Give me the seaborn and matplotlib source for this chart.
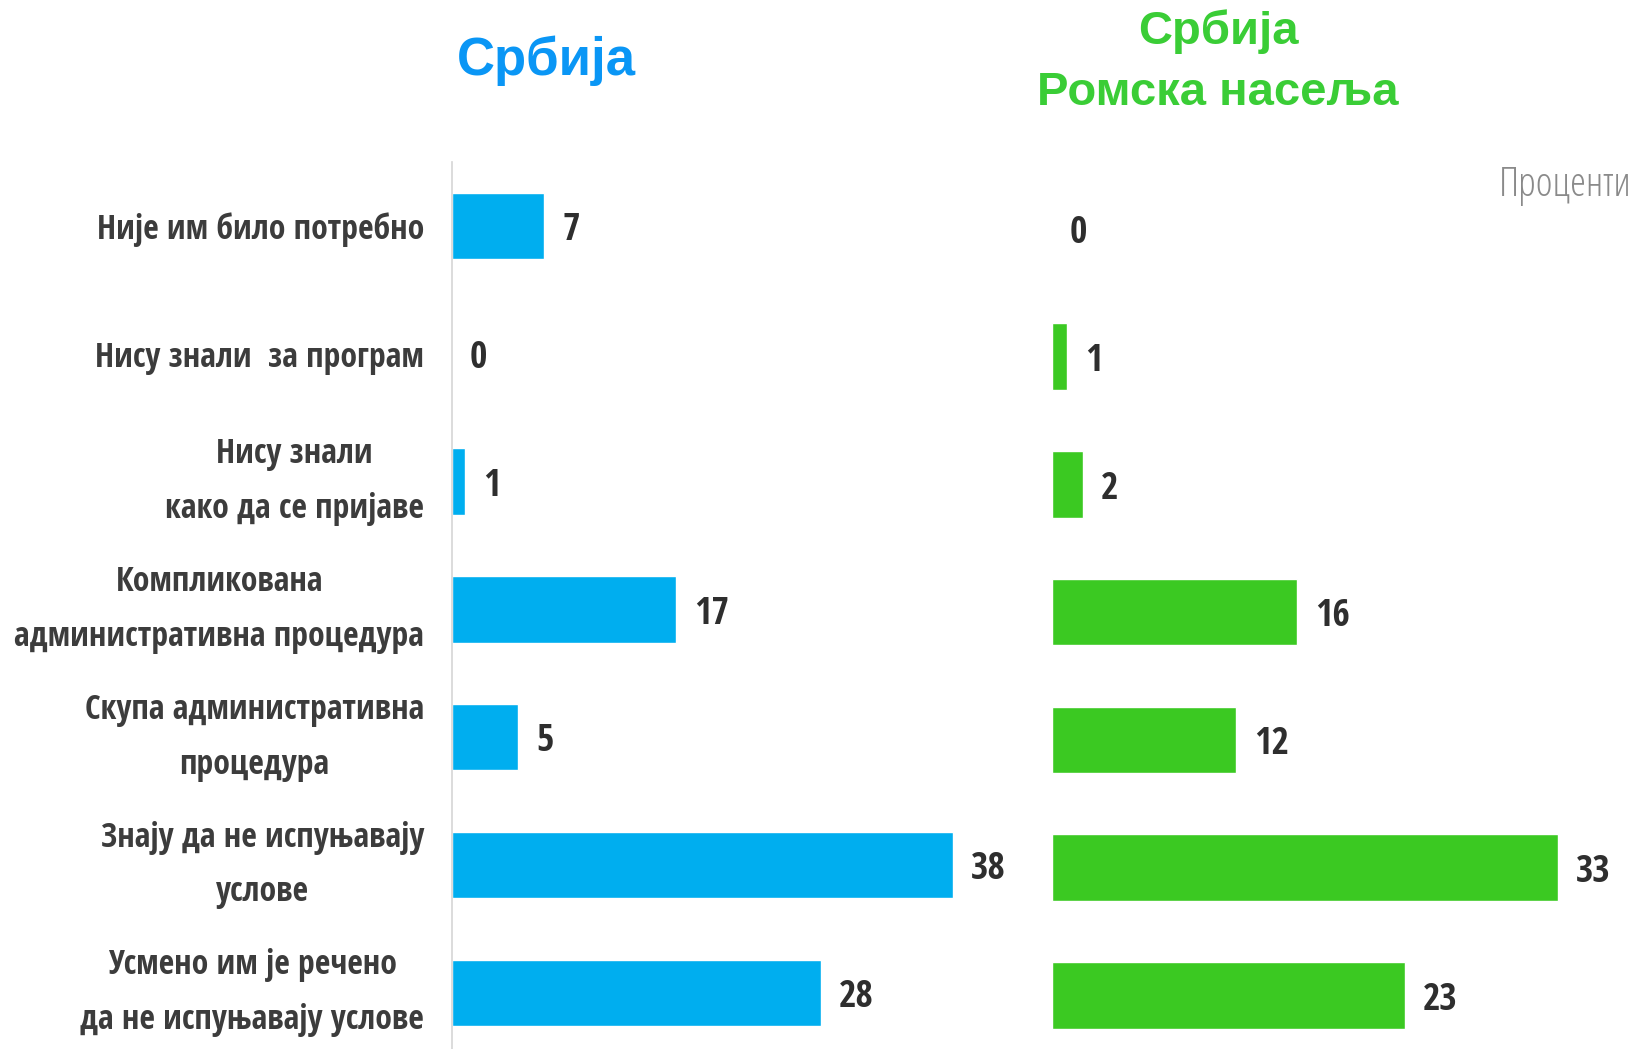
import matplotlib
matplotlib.use("Agg")
import matplotlib.pyplot as plt
from matplotlib import font_manager as fm
import seaborn as sns
import pandas as pd

categories = [
    "Није им било потребно",
    "Нису знали  за програм",
    "Нису знали\nкако да се пријаве",
    "Компликована\nадминистративна процедура",
    "Скупа административна\nпроцедура",
    "Знају да не испуњавају\nуслове",
    "Усмено им је речено\nда не испуњавају услове",
]
serbia_values = [7, 0, 1, 17, 5, 38, 28]
roma_values = [0, 1, 2, 16, 12, 33, 23]

title_left = "Србија"
title_right_1 = "Србија"
title_right_2 = "Ромска насеља"
unit_label = "Проценти"

BLUE = "#00AEEF"
GREEN = "#3BC922"
BLUE_T = "#0A96F5"
GREEN_T = "#3ACD36"
TXT = "#3c3c3c"


def font_path(filename):
    for f in fm.fontManager.ttflist:
        if f.fname.endswith(filename):
            return f.fname
    return None


def fprops(filename, size, fallback_weight="bold"):
    p = font_path(filename)
    if p:
        return fm.FontProperties(fname=p, size=size)
    return fm.FontProperties(family="DejaVu Sans", weight=fallback_weight, size=size)


sns.set_theme(style="white")
plt.rcParams["font.family"] = ["Liberation Sans", "DejaVu Sans"]

LABEL_FP = fprops("OpenSans-CondBold.ttf", 24.2)
VALUE_FP = fprops("OpenSans-CondBold.ttf", 27)
UNIT_FP = fprops("OpenSans-CondLight.ttf", 29, "normal")

W, H = 1642, 1049
fig = plt.figure(figsize=(W / 100, H / 100), dpi=100)

df_l = pd.DataFrame({"cat": categories, "val": serbia_values})
df_r = pd.DataFrame({"cat": categories, "val": roma_values})

axL = fig.add_axes([452 / W, 0, 548 / W, 1 - 162 / H])
axR = fig.add_axes([1052 / W, 0, 590 / W, 1 - 165 / H])

sns.barplot(data=df_l, x="val", y="cat", orient="h", color=BLUE, width=0.52,
            ax=axL, saturation=1)
sns.barplot(data=df_r, x="val", y="cat", orient="h", color=GREEN, width=0.52,
            ax=axR, saturation=1)

axL.set_xlim(0, 548 / 13.18)
axR.set_xlim(0, 590 / 15.33)
axL.set_ylim(6.44, -0.5)
axR.set_ylim(6.42, -0.5)

for ax in (axL, axR):
    ax.set_xlabel("")
    ax.set_ylabel("")
    ax.set_xticks([])
    ax.tick_params(axis="y", length=0)
    for s in ax.spines.values():
        s.set_visible(False)
    for t in ax.bar_label(ax.containers[0], padding=13, color="#2e2e2e"):
        t.set_fontproperties(VALUE_FP)
        t.xyann = (13, -3)

axL.spines["left"].set_visible(True)
axL.spines["left"].set_color("#d5d5d5")
axL.spines["left"].set_linewidth(1.2)

axL.set_yticks(range(len(categories)))
axL.set_yticklabels(categories, color=TXT, multialignment="center", linespacing=1.8)
for lbl in axL.get_yticklabels():
    lbl.set_fontproperties(LABEL_FP)
    if "\n" in lbl.get_text():
        lbl.set_va("center")
axL.tick_params(axis="y", pad=20)
axR.set_yticks([])

fig.text(546 / W, 1 - 75 / H, title_left, ha="center", va="baseline",
         fontsize=38, fontweight="bold", color=BLUE_T)
fig.text(1218 / W, 1 - 44 / H, title_right_1, ha="center", va="baseline",
         fontsize=34, fontweight="bold", color=GREEN_T)
fig.text(1218 / W, 1 - 105 / H, title_right_2, ha="center", va="baseline",
         fontsize=34, fontweight="bold", color=GREEN_T)
fig.text(1632 / W, 1 - 196 / H, unit_label, ha="right", va="baseline",
         color="#8a8a8a", fontproperties=UNIT_FP)

fig.savefig("out.png", dpi=100)
